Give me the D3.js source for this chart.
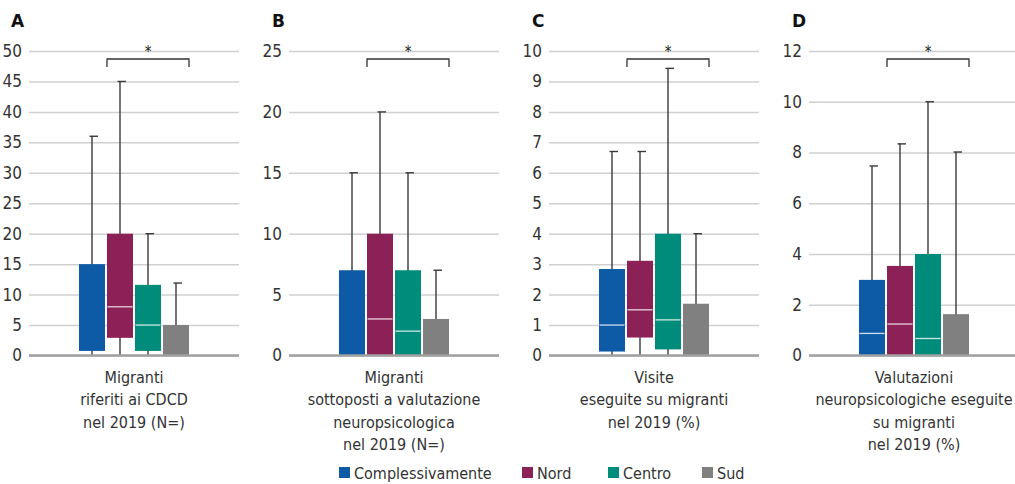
<!DOCTYPE html>
<html lang="it">
<head>
<meta charset="UTF-8">
<title>Migranti CDCD 2019</title>
<script src="https://cdn.jsdelivr.net/npm/d3@7"></script>
<style>
  body { margin: 0; background: #fff; }
  text { font-family: "DejaVu Sans Condensed", sans-serif; fill: #333; }
</style>
</head>
<body>
<div id="chart"></div>
<script>
// gruppi e colori
const groups = ["Complessivamente", "Nord", "Centro", "Sud"];
const colors = ["#0d5aa7", "#8c2158", "#008c7a", "#808080"];

// A - Migranti riferiti ai CDCD
const aQ1 = [0.75, 2.9, 0.75, 0];
const aMed = [null, 8, 5, null];
const aQ3 = [15, 20, 11.6, 5];
const aMax = [36, 45, 20, 11.9];
const aTicks = [0, 5, 10, 15, 20, 25, 30, 35, 40, 45, 50];
const aLabel = ["Migranti", "riferiti ai CDCD", "nel 2019 (N=)"];

// B - Migranti sottoposti a valutazione
const bQ1 = [0, 0, 0, 0];
const bMed = [null, 3, 2, null];
const bQ3 = [7, 10, 7, 3];
const bMax = [15, 20, 15, 7];
const bTicks = [0, 5, 10, 15, 20, 25];
const bLabel = ["Migranti", "sottoposti a valutazione", "neuropsicologica", "nel 2019 (N=)"];

// C - Visite eseguite su migranti (%)
const cQ1 = [0.13, 0.59, 0.2, 0];
const cMed = [1, 1.5, 1.17, null];
const cQ3 = [2.84, 3.11, 4, 1.7];
const cMax = [6.7, 6.7, 9.43, 4];
const cTicks = [0, 1, 2, 3, 4, 5, 6, 7, 8, 9, 10];
const cLabel = ["Visite", "eseguite su migranti", "nel 2019 (%)"];

// D - Valutazioni neuropsicologiche (%)
const dQ1 = [0, 0, 0, 0];
const dMed = [0.87, 1.24, 0.67, null];
const dQ3 = [2.98, 3.53, 4, 1.63];
const dMax = [7.47, 8.34, 10, 8.02];
const dTicks = [0, 2, 4, 6, 8, 10, 12];
const dLabel = ["Valutazioni", "neuropsicologiche eseguite", "su migranti", "nel 2019 (%)"];

const panels = [
  {letter: "A", q1: aQ1, med: aMed, q3: aQ3, max: aMax, ticks: aTicks, label: aLabel, x0: 29, x1: 239, lx: 11},
  {letter: "B", q1: bQ1, med: bMed, q3: bQ3, max: bMax, ticks: bTicks, label: bLabel, x0: 289, x1: 499, lx: 272},
  {letter: "C", q1: cQ1, med: cMed, q3: cQ3, max: cMax, ticks: cTicks, label: cLabel, x0: 549, x1: 759, lx: 532},
  {letter: "D", q1: dQ1, med: dMed, q3: dQ3, max: dMax, ticks: dTicks, label: dLabel, x0: 809, x1: 1015, lx: 792}
];

const width = 1015, height = 484;
const yTop = 51, yBottom = 355.5;

const svg = d3.select("#chart").append("svg")
  .attr("width", width)
  .attr("height", height);

panels.forEach(function(p) {
  const g = svg.append("g");
  const y = d3.scaleLinear()
    .domain([0, d3.max(p.ticks)])
    .range([yBottom, yTop]);
  const x = d3.scaleBand()
    .domain(groups)
    .range([p.x0 + 50, p.x0 + 160])
    .paddingInner(2 / 28)
    .paddingOuter(0);

  // griglia
  const axis = g.append("g")
    .attr("transform", "translate(" + p.x0 + ",0)")
    .call(d3.axisLeft(y).tickValues(p.ticks).tickSize(-(p.x1 - p.x0)).tickPadding(7));
  axis.select(".domain").remove();
  axis.selectAll(".tick line").attr("stroke", "#d0d0d0").attr("stroke-width", 1.5);
  axis.selectAll(".tick text")
    .style("font-size", "17px")
    .style("font-family", "\"DejaVu Sans Condensed\", sans-serif")
    .attr("fill", "#333");

  // baffi
  const rows = groups.map(function(k, i) {
    return {k: k, i: i, q1: p.q1[i], med: p.med[i], q3: p.q3[i], max: p.max[i]};
  });
  const cx = d => x(d.k) + x.bandwidth() / 2;
  g.selectAll(".whisker").data(rows).enter().append("line")
    .attr("x1", cx).attr("x2", cx)
    .attr("y1", y(0)).attr("y2", d => y(d.max))
    .attr("stroke", "#3a3a3a").attr("stroke-width", 1.4);
  g.selectAll(".cap").data(rows).enter().append("line")
    .attr("x1", d => cx(d) - 2.5).attr("x2", d => cx(d) + 6)
    .attr("y1", d => y(d.max)).attr("y2", d => y(d.max))
    .attr("stroke", "#3a3a3a").attr("stroke-width", 1.4);

  // scatole
  g.selectAll(".box").data(rows).enter().append("rect")
    .attr("x", d => x(d.k))
    .attr("width", x.bandwidth())
    .attr("y", d => y(d.q3))
    .attr("height", d => y(d.q1) - y(d.q3))
    .attr("fill", (d, i) => colors[i]);
  g.selectAll(".median").data(rows.filter(d => d.med != null)).enter().append("line")
    .attr("x1", d => x(d.k) + 0.5).attr("x2", d => x(d.k) + x.bandwidth() - 0.5)
    .attr("y1", d => y(d.med)).attr("y2", d => y(d.med))
    .attr("stroke", "#fff").attr("stroke-opacity", 0.8).attr("stroke-width", 1.3);

  // asse
  g.append("line")
    .attr("x1", p.x0).attr("x2", p.x1)
    .attr("y1", y(0)).attr("y2", y(0))
    .attr("stroke", "#a0a0a0").attr("stroke-width", 2.5);

  // significativita
  const bx0 = x("Nord"), bx1 = x("Sud") + x.bandwidth();
  g.append("path")
    .attr("d", "M" + bx0 + ",67V59H" + bx1 + "V67")
    .attr("fill", "none").attr("stroke", "#333").attr("stroke-width", 1.3);
  g.append("text")
    .attr("x", (bx0 + bx1) / 2).attr("y", 57)
    .attr("text-anchor", "middle")
    .style("fill", "#222")
    .style("font-size", "15px")
    .text("*");

  // lettera
  g.append("text")
    .attr("x", p.lx).attr("y", 27)
    .style("font-family", "\"DejaVu Sans\", sans-serif")
    .style("font-weight", "bold").style("font-size", "17px")
    .style("fill", "#111")
    .text(p.letter);

  // etichetta categoria
  const mid = (x("Complessivamente") + bx1) / 2;
  const lab = g.append("text")
    .attr("text-anchor", "middle")
    .style("font-size", "16px");
  p.label.forEach(function(t, i) {
    lab.append("tspan").attr("x", mid)
      .attr("y", 383 + i * 22.3).text(t);
  });
});

// legenda
const legX = [339, 522, 608, 702];
const leg = svg.append("g");
groups.forEach(function(k, i) {
  leg.append("rect").attr("x", legX[i]).attr("y", 467).attr("width", 11).attr("height", 11).attr("fill", colors[i]);
  leg.append("text").attr("x", legX[i] + 15).attr("y", 479).style("font-size", "16px").text(k);
});
</script>
</body>
</html>
